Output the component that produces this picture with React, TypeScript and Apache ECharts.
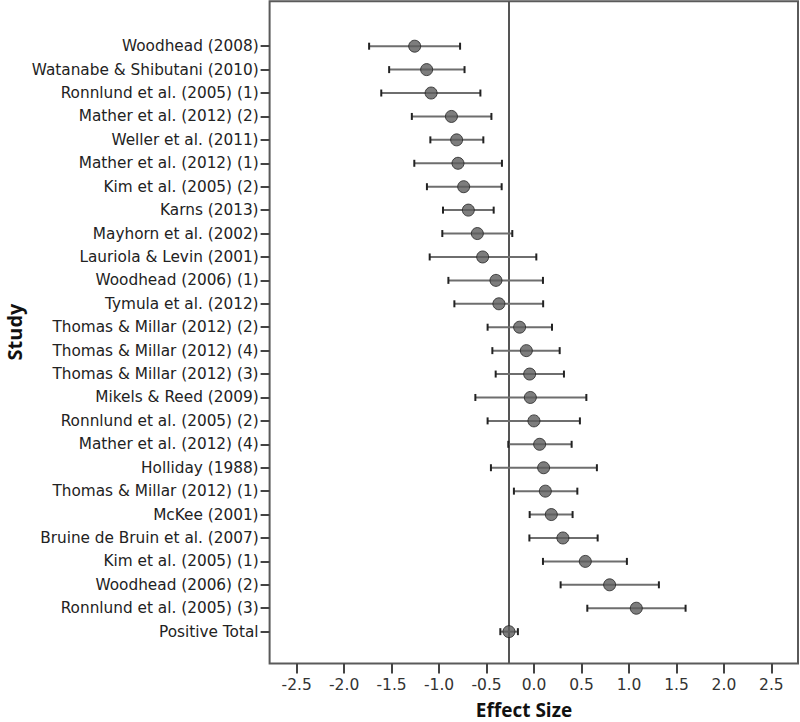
import React, { useEffect, useRef } from "react";
import * as echarts from "echarts";

const studies = [
  "Woodhead (2008)",
  "Watanabe & Shibutani (2010)",
  "Ronnlund et al. (2005) (1)",
  "Mather et al. (2012) (2)",
  "Weller et al. (2011)",
  "Mather et al. (2012) (1)",
  "Kim et al. (2005) (2)",
  "Karns (2013)",
  "Mayhorn et al. (2002)",
  "Lauriola & Levin (2001)",
  "Woodhead (2006) (1)",
  "Tymula et al. (2012)",
  "Thomas & Millar (2012) (2)",
  "Thomas & Millar (2012) (4)",
  "Thomas & Millar (2012) (3)",
  "Mikels & Reed (2009)",
  "Ronnlund et al. (2005) (2)",
  "Mather et al. (2012) (4)",
  "Holliday (1988)",
  "Thomas & Millar (2012) (1)",
  "McKee (2001)",
  "Bruine de Bruin et al. (2007)",
  "Kim et al. (2005) (1)",
  "Woodhead (2006) (2)",
  "Ronnlund et al. (2005) (3)",
  "Positive Total",
];

const effect = [
  -1.257, -1.131, -1.084, -0.87, -0.815, -0.801, -0.741, -0.692, -0.597, -0.541,
  -0.401, -0.37, -0.152, -0.081, -0.046, -0.039, -0.001, 0.059, 0.101, 0.119,
  0.182, 0.304, 0.54, 0.796, 1.077, -0.264,
];
const lower = [
  -1.737, -1.526, -1.609, -1.287, -1.092, -1.261, -1.128, -0.959, -0.966, -1.099,
  -0.902, -0.839, -0.489, -0.439, -0.404, -0.618, -0.489, -0.271, -0.454, -0.212,
  -0.046, -0.049, 0.094, 0.28, 0.561, -0.355,
];
const upper = [
  -0.779, -0.732, -0.565, -0.449, -0.534, -0.338, -0.341, -0.425, -0.229, 0.024,
  0.094, 0.096, 0.189, 0.27, 0.315, 0.551, 0.483, 0.396, 0.662, 0.456, 0.406,
  0.67, 0.978, 1.315, 1.596, -0.17,
];
const xTicks = [-2.5, -2.0, -1.5, -1.0, -0.5, 0.0, 0.5, 1.0, 1.5, 2.0, 2.5];
const referenceValue = -0.267;

export default function App() {
  const ref = useRef<HTMLDivElement>(null);
  useEffect(() => {
    if (!ref.current) return;
    const chart = echarts.init(ref.current, null, { renderer: "svg" });
    const rowIdx = studies.map((_, i) => i);
    const errData = studies.map((_, i) => [lower[i], upper[i], i]);
    const dotData = studies.map((_, i) => [effect[i], i]);
    chart.setOption({
      animation: false,
      backgroundColor: "#ffffff",
      grid: {
        left: 269.6,
        right: 2,
        top: 1.3,
        bottom: 58.5,
        show: true,
        borderColor: "#5a5a5a",
        borderWidth: 2,
        backgroundColor: "#ffffff",
      },
      xAxis: {
        type: "value",
        min: -2.785,
        max: 2.78,
        position: "bottom",
        axisLine: { show: false, onZero: false },
        splitLine: { show: false },
        axisTick: {
          show: true,
          inside: false,
          length: 10,
          customValues: xTicks,
          lineStyle: { color: "#444", width: 2 },
        },
        axisLabel: {
          customValues: xTicks,
          formatter: (v: number) => v.toFixed(1),
          fontSize: 15.5,
          fontFamily: "DejaVu Sans",
          color: "#333",
          margin: 13,
        },
      },
      yAxis: {
        type: "value",
        inverse: true,
        min: -1.917,
        max: 26.36,
        position: "left",
        axisLine: { show: false, onZero: false },
        splitLine: { show: false },
        axisTick: {
          show: true,
          inside: false,
          length: 9,
          customValues: rowIdx,
          lineStyle: { color: "#444", width: 2 },
        },
        axisLabel: {
          customValues: rowIdx,
          formatter: (v: number) => studies[Math.round(v)] ?? "",
          fontSize: 15.3,
          fontFamily: "DejaVu Sans",
          color: "#222",
          margin: 11,
        },
      },
      graphic: [
        {
          type: "text",
          x: 14,
          y: 332,
          rotation: Math.PI / 2,
          style: {
            text: "Study",
            fontSize: 20,
            fontWeight: "bold",
            fontFamily: "Open Sans",
            fill: "#111",
            textAlign: "center",
            textVerticalAlign: "middle",
          },
        },
        {
          type: "text",
          x: 524,
          y: 710,
          style: {
            text: "Effect Size",
            fontSize: 19,
            fontWeight: "bold",
            fontFamily: "Open Sans",
            fill: "#111",
            textAlign: "center",
            textVerticalAlign: "middle",
          },
        },
      ],
      series: [
        {
          type: "custom",
          data: errData,
          encode: { x: [0, 1], y: 2 },
          z: 3,
          silent: true,
          renderItem: (_params: any, api: any) => {
            const idx = api.value(2);
            const lo = api.coord([api.value(0), idx]);
            const hi = api.coord([api.value(1), idx]);
            const h = 3.5;
            return {
              type: "group",
              children: [
                {
                  type: "line",
                  shape: { x1: lo[0], y1: lo[1], x2: hi[0], y2: hi[1] },
                  style: { stroke: "#6e6e6e", lineWidth: 2 },
                },
                {
                  type: "line",
                  shape: { x1: lo[0], y1: lo[1] - h, x2: lo[0], y2: lo[1] + h },
                  style: { stroke: "#222", lineWidth: 2 },
                },
                {
                  type: "line",
                  shape: { x1: hi[0], y1: hi[1] - h, x2: hi[0], y2: hi[1] + h },
                  style: { stroke: "#222", lineWidth: 2 },
                },
              ],
            };
          },
        },
        {
          type: "scatter",
          data: dotData,
          z: 4,
          symbol: "circle",
          symbolSize: 12,
          itemStyle: { color: "#5c5c5c", borderColor: "#222", borderWidth: 1 },
          markLine: {
            silent: true,
            symbol: "none",
            z: 2,
            label: { show: false },
            lineStyle: { color: "#555", width: 2, type: "solid" },
            data: [{ xAxis: referenceValue }],
          },
        },
      ],
    });
    return () => chart.dispose();
  }, []);
  return <div ref={ref} style={{ width: 800, height: 722, position: "absolute", left: 0, top: 0 }} />;
}
